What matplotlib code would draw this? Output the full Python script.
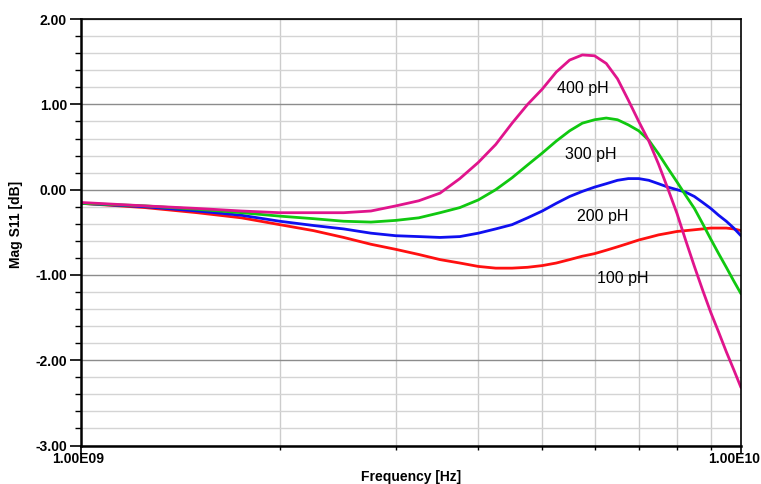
import matplotlib.pyplot as plt
from matplotlib.ticker import FixedLocator, MultipleLocator, NullFormatter
from matplotlib.transforms import offset_copy
import numpy as np

plt.rcParams['font.family'] = ['Liberation Sans', 'DejaVu Sans']

# frequency grid in GHz
freq_ghz = [1.0, 1.25, 1.5, 1.75, 2.0, 2.25, 2.5, 2.75, 3.0, 3.25, 3.5, 3.75,
            4.0, 4.25, 4.5, 4.75, 5.0, 5.25, 5.5, 5.75, 6.0, 6.25, 6.5, 6.75,
            7.0, 7.25, 7.5, 7.75, 8.0, 8.25, 8.5, 8.75, 9.0, 9.25, 9.5, 9.75, 10.0]

s11_400 = [-0.15, -0.19, -0.22, -0.25, -0.27, -0.27, -0.27, -0.25, -0.19, -0.13, -0.04, 0.13,
           0.32, 0.53, 0.78, 1.00, 1.18, 1.38, 1.52, 1.58, 1.57, 1.48, 1.30, 1.05,
           0.80, 0.57, 0.30, 0.01, -0.28, -0.60, -0.90, -1.18, -1.44, -1.67, -1.90, -2.11, -2.32]
s11_300 = [-0.16, -0.19, -0.23, -0.27, -0.31, -0.34, -0.37, -0.38, -0.36, -0.33, -0.27, -0.21,
           -0.12, 0.00, 0.14, 0.29, 0.43, 0.57, 0.69, 0.78, 0.82, 0.84, 0.82, 0.76,
           0.69, 0.58, 0.42, 0.25, 0.09, -0.07, -0.22, -0.40, -0.58, -0.75, -0.91, -1.07, -1.22]
s11_200 = [-0.16, -0.20, -0.25, -0.30, -0.37, -0.42, -0.46, -0.51, -0.54, -0.55, -0.56, -0.55,
           -0.51, -0.46, -0.41, -0.33, -0.25, -0.16, -0.08, -0.02, 0.03, 0.07, 0.11, 0.13,
           0.13, 0.11, 0.07, 0.03, 0.00, -0.03, -0.08, -0.15, -0.22, -0.30, -0.37, -0.45, -0.54]
s11_100 = [-0.16, -0.21, -0.27, -0.33, -0.41, -0.48, -0.56, -0.64, -0.70, -0.76, -0.82, -0.86,
           -0.90, -0.92, -0.92, -0.91, -0.89, -0.86, -0.82, -0.78, -0.75, -0.71, -0.67, -0.63,
           -0.59, -0.56, -0.53, -0.51, -0.49, -0.48, -0.47, -0.46, -0.45, -0.45, -0.45, -0.46, -0.48]

labels = ['400 pH', '300 pH', '200 pH', '100 pH']
colors = ['#E0148C', '#10C810', '#1010F0', '#FF1010']
label_pos = [(5.76e9, 1.19), (5.93e9, 0.41), (6.18e9, -0.31), (6.63e9, -1.04)]
xtick_vals = [1e9, 1e10]
xtick_text = ['1.00E09', '1.00E10']

freq = np.array(freq_ghz) * 1e9

fig = plt.figure(figsize=(7.61, 4.84), dpi=100)
ax = fig.add_axes([0.1064, 0.0795, 0.8673, 0.881])

ax.set_xscale('log')
ax.set_xlim(1e9, 1e10)
ax.set_ylim(-3, 2)

# grid
ax.xaxis.set_major_locator(FixedLocator(xtick_vals))
ax.xaxis.set_minor_locator(FixedLocator([k * 1e9 for k in range(2, 10)]))
ax.xaxis.set_minor_formatter(NullFormatter())
ax.xaxis.set_major_formatter(NullFormatter())
ax.yaxis.set_major_locator(MultipleLocator(1.0))
ax.yaxis.set_minor_locator(MultipleLocator(0.2))
ax.grid(True, which='minor', axis='x', color='#CCCCCC', lw=1.0)
ax.grid(True, which='minor', axis='y', color='#D4D4D4', lw=1.0)
ax.grid(True, which='major', axis='y', color='#8C8C8C', lw=1.0)
ax.set_axisbelow(True)

for vals, c in zip([s11_100, s11_200, s11_300, s11_400], colors[::-1]):
    ax.plot(freq, vals, color=c, lw=2.0, solid_capstyle='round')

for (lx, ly), t in zip(label_pos, labels):
    ax.text(lx, ly, t, ha='center', va='center', fontsize=11.5)

ax.set_yticks([-3, -2, -1, 0, 1, 2])
ax.set_yticklabels(['-3.00', '-2.00', '-1.00', '0.00', '1.00', '2.00'], fontweight='bold', fontsize=10)

# x tick labels drawn by hand so the right one stays inside the figure
for xv, t, dx, ha in zip(xtick_vals, xtick_text, [-29, 19], ['left', 'right']):
    tr = offset_copy(ax.get_xaxis_transform(), fig=fig, x=dx, y=-6, units='dots')
    ax.text(xv, 0, t, transform=tr, ha=ha, va='top', fontsize=10, fontweight='bold')

ax.tick_params(axis='y', which='major', length=8, width=1.2, pad=2)
ax.tick_params(axis='y', which='minor', length=4, width=1.0)
ax.tick_params(axis='x', which='major', length=6, width=1.2, pad=0)
ax.tick_params(axis='x', which='minor', length=3, width=1.0)

for s in ['left', 'bottom']:
    ax.spines[s].set_linewidth(1.8)
for s in ['top', 'right']:
    ax.spines[s].set_linewidth(1.2)

ax.set_xlabel('Frequency [Hz]', fontweight='bold', fontsize=10, va='center')
ax.set_ylabel('Mag S11 [dB]', fontweight='bold', fontsize=10, va='center')
ax.xaxis.set_label_coords(0.5, -0.0739)
ax.yaxis.set_label_coords(-0.0985, 0.519)

fig.savefig('out.png', dpi=100)
